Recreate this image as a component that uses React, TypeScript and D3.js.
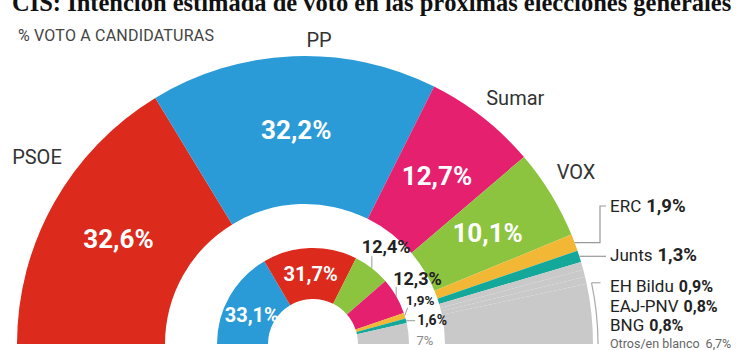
import * as d3 from 'd3';

// Outer ring: CIS estimate
const outerParties = ['PSOE', 'PP', 'Sumar', 'VOX', 'ERC', 'Junts', 'EH Bildu', 'EAJ-PNV', 'BNG', 'Otros/en blanco'];
const outerValues = [32.6, 32.2, 12.7, 10.1, 1.9, 1.3, 0.9, 0.8, 0.8, 6.7];

// Inner ring: previous election result
const innerParties = ['PP', 'PSOE', 'VOX', 'Sumar', 'ERC', 'Junts', 'Otros'];
const innerValues = [33.1, 31.7, 12.4, 12.3, 1.9, 1.6, 7];

const title = 'CIS: Intención estimada de voto en las próximas elecciones generales';
const subtitle = '% VOTO A CANDIDATURAS';

const partyColors: Record<string, string> = {
  PSOE: '#dc2a1c',
  PP: '#2b9bd8',
  Sumar: '#e5206f',
  VOX: '#8cc43f',
  ERC: '#f1b735',
  Junts: '#13a89a',
};
const gray = '#c9c9c9';
const colorOf = (p: string) => partyColors[p] || gray;

const W = 750;
const H = 350;
const cy = 344;
const outerCx = 305;
const innerCx = 313;
const R = 288;
const R0 = 140;
const r1 = 96;
const r0 = 45;
const font = 'Roboto, sans-serif';

// layout tweaks for the big party names (degrees, radius)
const nameNudge: Record<string, [number, number]> = {
  PSOE: [5.6, 327],
  PP: [5, 304],
  Sumar: [2.4, 324],
  VOX: [-1, 321],
};

// right hand labels (baselines)
const rightBase: Record<string, number> = {
  ERC: 212,
  Junts: 261,
  'EH Bildu': 292,
  'EAJ-PNV': 312,
  BNG: 331,
  'Otros/en blanco': 348,
};

// callouts for the small inner slices: leader end offset, text offset, size
const innerCallouts = [
  { i: 2, lead: [0, -12], tx: -10, ty: -15, size: 18, color: '#222', bold: true },
  { i: 3, lead: [0, -9], tx: -3, ty: -11, size: 18, color: '#222', bold: true },
  { i: 4, lead: [3, -8], tx: 1, ty: -11, size: 13.5, color: '#222', bold: true },
  { i: 5, lead: [9, 0], tx: 11, ty: 4, size: 14, color: '#222', bold: true },
  { i: 6, lead: null, tx: 8, ty: 12, size: 13, color: '#888', bold: false },
];

const fmt = (v: number) => (Number.isInteger(v) ? String(v) : v.toFixed(1).replace('.', ',')) + '%';
const rad = (deg: number) => (deg * Math.PI) / 180;
const polar = (cx: number, a: number, r: number): [number, number] => [cx + r * Math.sin(a), cy - r * Math.cos(a)];

export default function App() {
  const pie = d3
    .pie<number>()
    .sort(null)
    .startAngle(-Math.PI / 2)
    .endAngle(Math.PI / 2)
    .value(d => d);

  const outer = pie(outerValues);
  const inner = pie(innerValues);

  const outerArc = d3.arc<d3.PieArcDatum<number>>().innerRadius(R0).outerRadius(R);
  const innerArc = d3.arc<d3.PieArcDatum<number>>().innerRadius(r0).outerRadius(r1);
  const mid = (d: d3.PieArcDatum<number>) => (d.startAngle + d.endAngle) / 2;

  // bracket for the grouped small parties
  const otrosShare = (outerValues[outerValues.length - 1] / d3.sum(outerValues)) * Math.PI;
  const bracket = d3.path();
  bracket.arc(outerCx, cy, R + 5, -otrosShare, 0);
  const [bx, by] = [outerCx + (R + 5) * Math.cos(otrosShare), cy - (R + 5) * Math.sin(otrosShare)];

  return (
    <div style={{ position: 'absolute', left: 0, top: 0 }}>
      <svg width={W} height={H} style={{ display: 'block', background: '#fff' }}>
        <text x={12} y={11} fontFamily="'Liberation Serif', serif" fontWeight="bold" fontSize={24.5} fill="#111">
          {title}
        </text>
        <text x={18} y={41} fontFamily={font} fontSize={16} letterSpacing={0.2} fill="#444">
          {subtitle}
        </text>

        {/* outer ring */}
        <g transform={`translate(${outerCx},${cy})`}>
          {outer.map((d, i) => (
            <path key={i} d={outerArc(d) || ''} fill={colorOf(outerParties[i])} />
          ))}
          {outer.slice(0, 4).map((d, i) => {
            const [x, y] = outerArc.centroid(d);
            return (
              <text key={i} x={x} y={y} dy="0.35em" textAnchor="middle" fontFamily={font} fontWeight="bold" fontSize={26} fill="#fff">
                {fmt(d.data)}
              </text>
            );
          })}
        </g>

        {/* big party names */}
        {outer.map((d, i) => {
          const nudge = nameNudge[outerParties[i]];
          if (!nudge) return null;
          const [x, y] = polar(outerCx, mid(d) + rad(nudge[0]), nudge[1]);
          return (
            <text key={i} x={x} y={y} dy="0.35em" textAnchor="middle" fontFamily={font} fontSize={20} fill="#333">
              {outerParties[i]}
            </text>
          );
        })}

        {/* ERC / Junts leaders */}
        {[4, 5].map(i => {
          const [ex, ey] = polar(outerCx, mid(outer[i]), R);
          const base = rightBase[outerParties[i]];
          const ly = base - 6;
          const p = Math.abs(ly - ey) > 3 ? `M${ex},${ey}H600V${ly}H606` : `M${ex},${ey}H606`;
          return <path key={i} d={p} fill="none" stroke="#999" strokeWidth={1.2} />;
        })}
        <path d={bracket.toString()} fill="none" stroke="#aaa" strokeWidth={1.2} />
        <path d={`M${bx},${by}H${bx + 9}`} fill="none" stroke="#aaa" strokeWidth={1.2} />

        {outerParties.slice(4).map((p, k) => {
          const v = outerValues[k + 4];
          const isOtros = p === 'Otros/en blanco';
          const big = p === 'ERC' || p === 'Junts';
          return (
            <text key={p} x={610} y={rightBase[p]} fontFamily={font} fill={isOtros ? '#666' : '#222'} fontSize={isOtros ? 12.5 : 17}>
              {p}
              <tspan dx={isOtros ? 6 : 5} fontWeight={isOtros ? 'normal' : 'bold'} fontSize={isOtros ? 12.5 : big ? 18.5 : 16}>
                {fmt(v)}
              </tspan>
            </text>
          );
        })}

        {/* inner ring */}
        <g transform={`translate(${innerCx},${cy})`}>
          {inner.map((d, i) => (
            <path key={i} d={innerArc(d) || ''} fill={colorOf(innerParties[i])} />
          ))}
          {inner.slice(0, 2).map((d, i) => {
            const [x, y] = innerArc.centroid(d);
            return (
              <text key={i} x={x} y={y + (i === 0 ? 6 : 0)} dy="0.35em" textAnchor="middle" fontFamily={font} fontWeight="bold" fontSize={20} fill="#fff">
                {fmt(d.data)}
              </text>
            );
          })}
        </g>

        {innerCallouts.map(c => {
          const d = inner[c.i];
          const [ex, ey] = polar(innerCx, mid(d), r1);
          return (
            <g key={c.i}>
              {c.lead && (
                <path d={`M${ex},${ey}L${ex + c.lead[0]},${ey + c.lead[1]}`} stroke="#999" strokeWidth={1} fill="none" />
              )}
              <text x={ex + c.tx} y={ey + c.ty} fontFamily={font} fontSize={c.size} fontWeight={c.bold ? 'bold' : 'normal'} fill={c.color}>
                {fmt(d.data)}
              </text>
            </g>
          );
        })}
      </svg>
    </div>
  );
}
